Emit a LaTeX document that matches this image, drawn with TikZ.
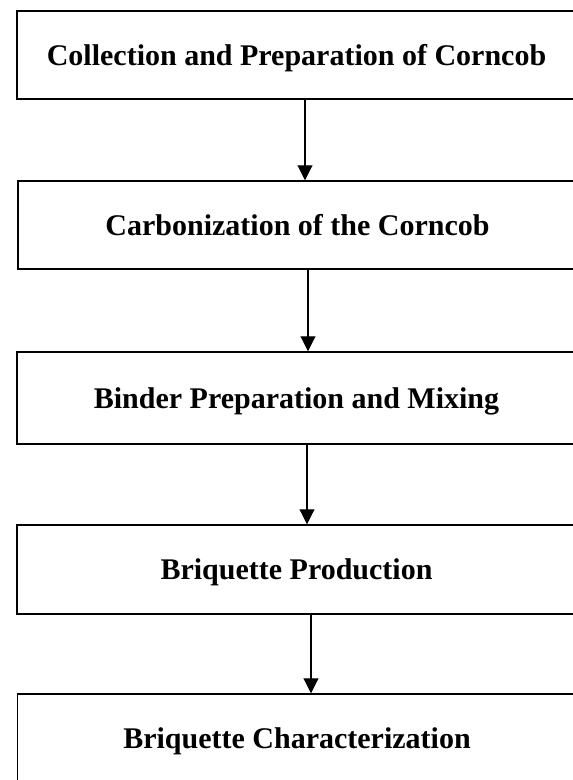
\documentclass[tikz,border=0pt]{standalone}
\usepackage{fontspec}
\setmainfont{Liberation Serif}
\usetikzlibrary{arrows.meta}
\begin{document}
\begin{tikzpicture}[x=1pt,y=-1pt,
  stage/.style={draw, line width=1.5pt, minimum width=559pt, minimum height=88pt, inner sep=0pt,
    font=\fontsize{30}{36}\selectfont\bfseries, text height=20pt, text depth=0pt},
  arr/.style={line width=1.1pt, -{Triangle[width=15pt,length=15pt]}}]
\useasboundingbox (0,0) rectangle (573,780);
\clip (0,0) rectangle (573,780);
\node[stage] (b1) at (296.5,55) {Collection and Preparation of Corncob};
\node[stage] (b2) at (297.5,225) {Carbonization of the Corncob};
\node[stage, minimum height=92pt] (b3) at (296.5,398) {Binder Preparation and Mixing};
\node[stage, minimum height=89pt] (b4) at (296.5,569.5) {Briquette Production};
\node[stage] (b5) at (297,738) {Briquette Characterization};
\coordinate (x1) at (305,0);
\coordinate (x2) at (308,0);
\coordinate (x3) at (307,0);
\coordinate (x4) at (311,0);
\draw[arr] (b1.south -| x1) -- (b2.north -| x1);
\draw[arr] (b2.south -| x2) -- (b3.north -| x2);
\draw[arr] (b3.south -| x3) -- (b4.north -| x3);
\draw[arr] (b4.south -| x4) -- (b5.north -| x4);
\end{tikzpicture}
\end{document}
